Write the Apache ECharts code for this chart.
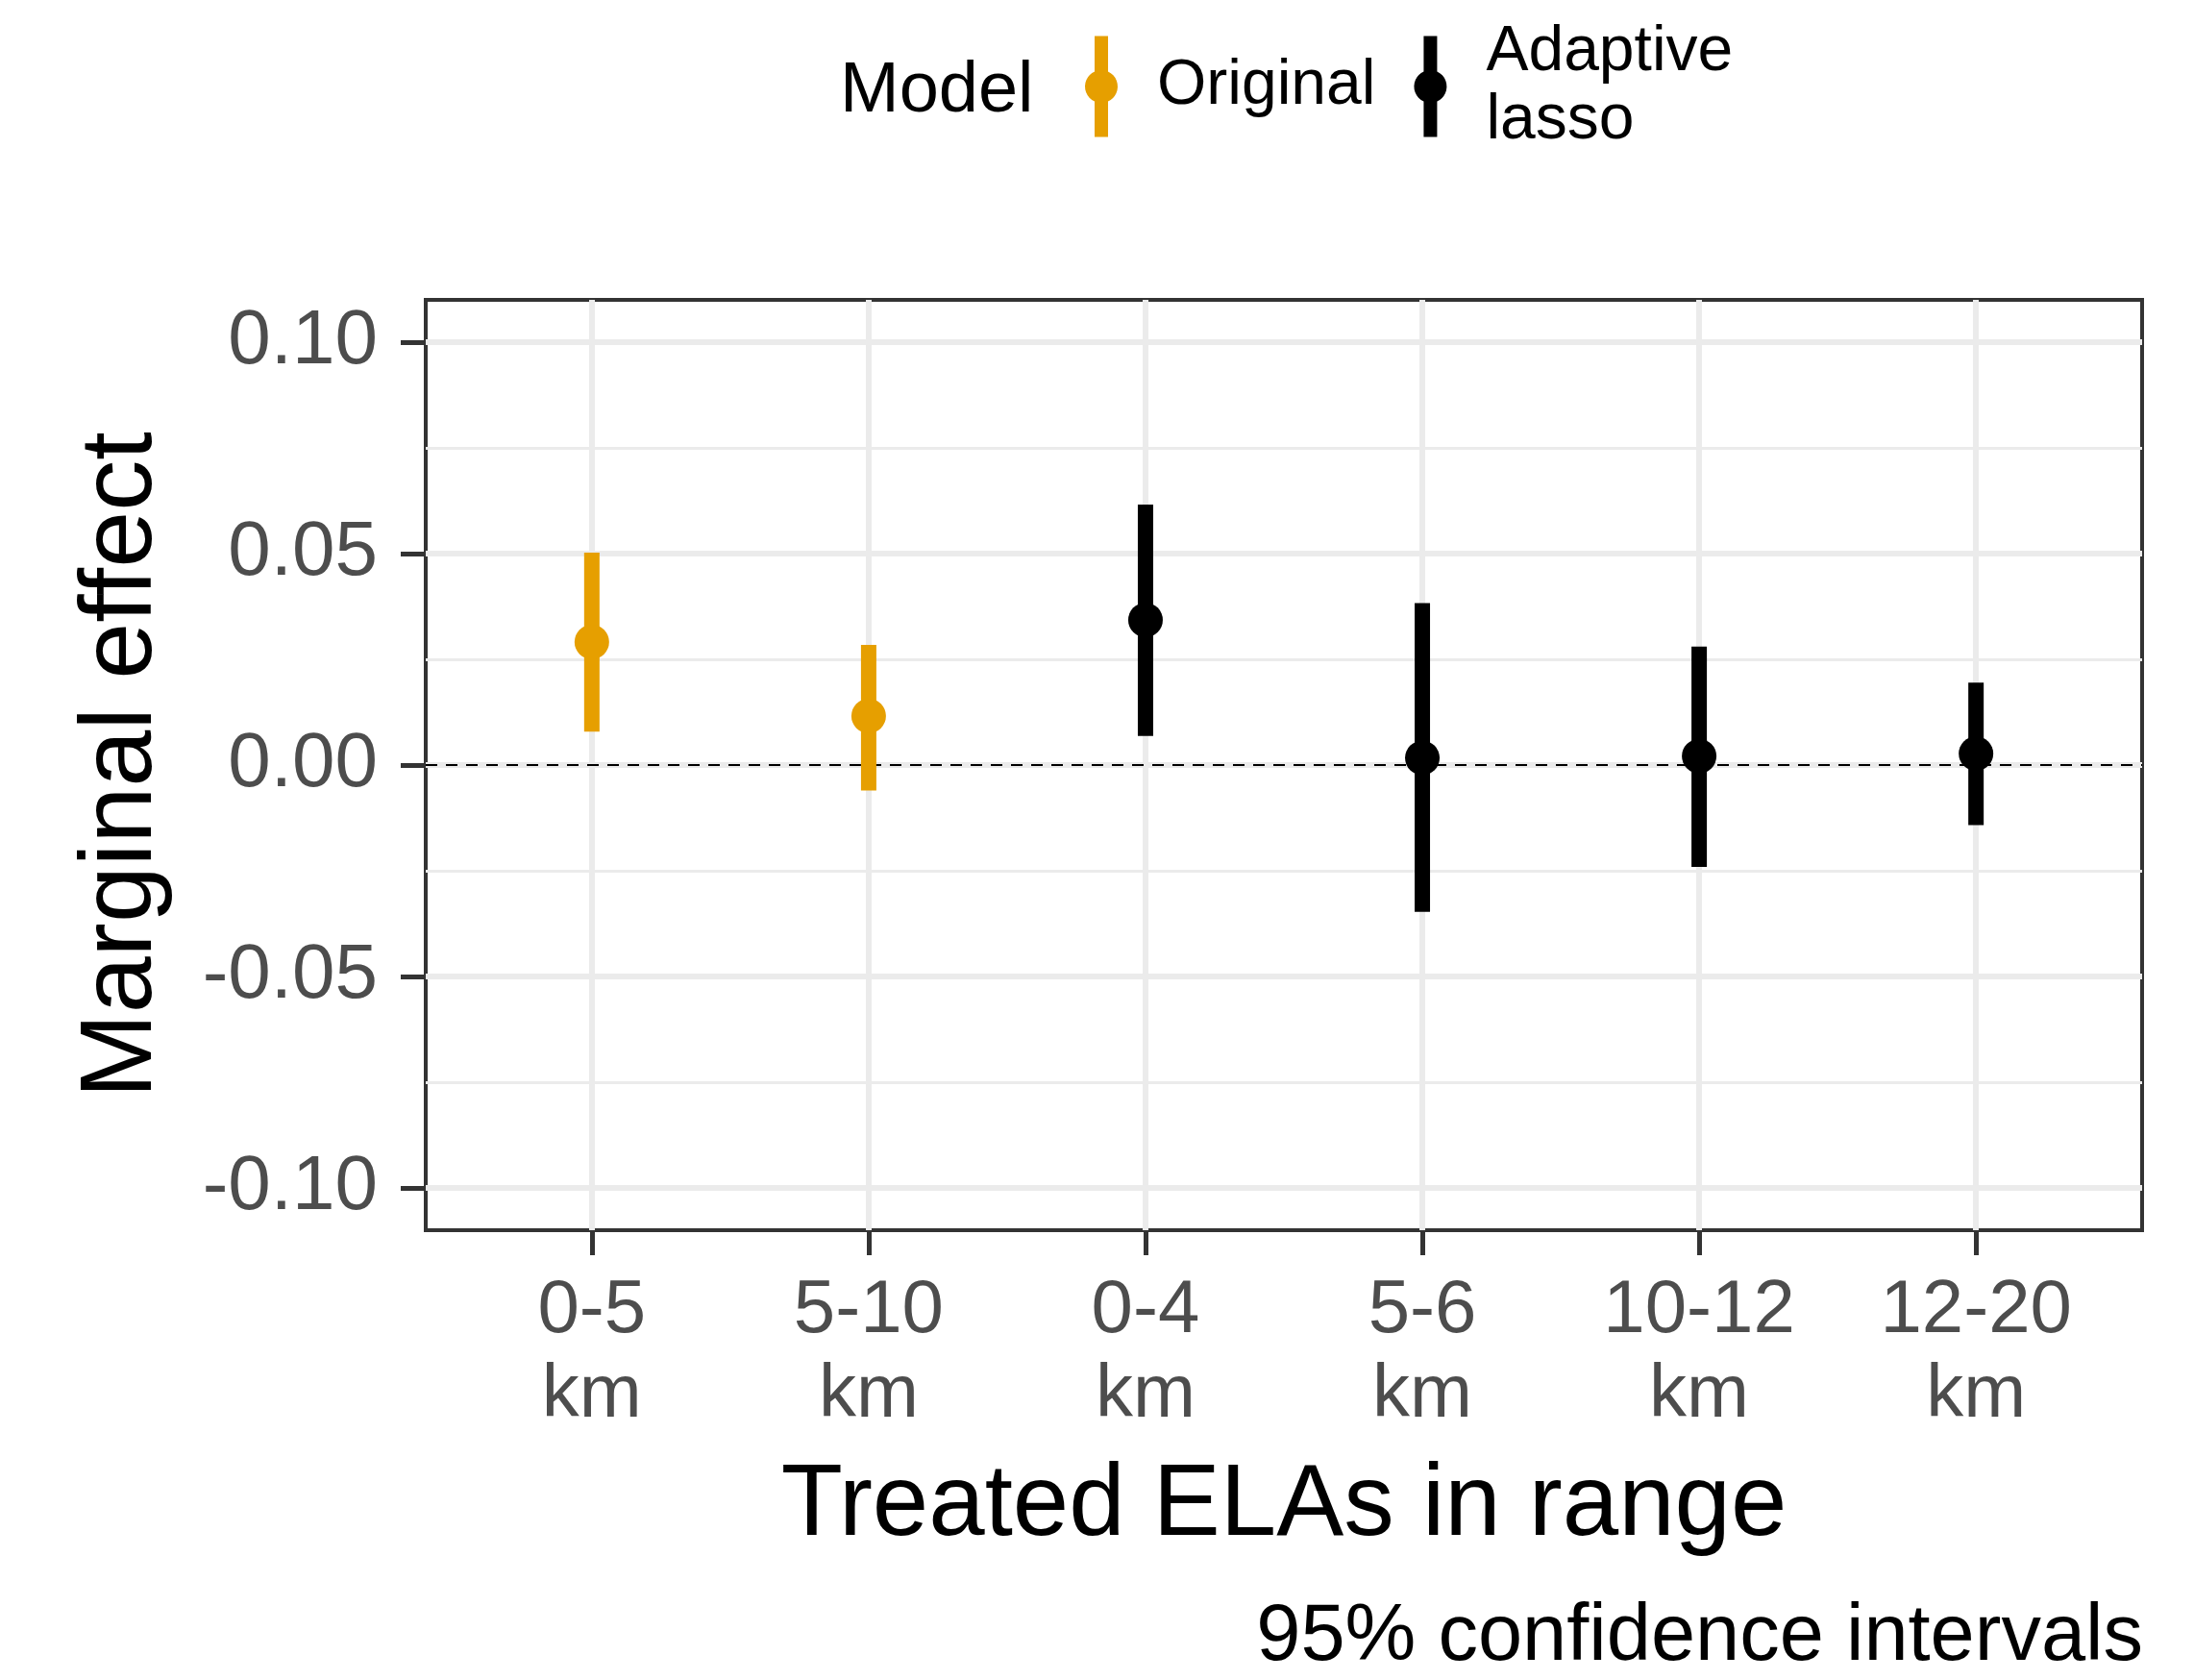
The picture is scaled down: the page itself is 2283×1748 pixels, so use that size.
<!DOCTYPE html>
<html>
<head>
<meta charset="utf-8">
<script src="https://cdn.jsdelivr.net/npm/echarts@6/dist/echarts.min.js"></script>
<style>
  html, body { margin: 0; padding: 0; background: #fff; }
  #chart { width: 2283px; height: 1748px; }
</style>
</head>
<body>
<div id="chart"></div>
<script>
// data
const categories = ['0-5\nkm', '5-10\nkm', '0-4\nkm', '5-6\nkm', '10-12\nkm', '12-20\nkm'];
const models = ['Original', 'Original', 'Adaptive lasso', 'Adaptive lasso', 'Adaptive lasso', 'Adaptive lasso'];
const estimates = [0.0291, 0.0116, 0.0343, 0.0017, 0.0021, 0.0027];
const lowers = [0.0079, -0.0060, 0.0069, -0.0347, -0.0241, -0.0142];
const uppers = [0.0502, 0.0284, 0.0616, 0.0383, 0.0280, 0.0195];
const modelNames = ['Original', 'Adaptive lasso'];
const modelColors = ['#E69F00', '#000000'];
const yTicks = [-0.1, -0.05, 0, 0.05, 0.1];
const yMinorTicks = [-0.075, -0.025, 0.025, 0.075];
const refLine = 0;

const FONT = "'Liberation Sans', Arial, sans-serif";
const xPositions = categories.map((_, i) => i);

// legend key: vertical bar with a dot in the middle
const keyIcon = 'path://M10,0 L24,0 L24,37 A17,17 0 0 1 24,68 L24,105 L10,105 L10,68 A17,17 0 0 1 10,37 Z';

const chart = echarts.init(document.getElementById('chart'), null, { renderer: 'canvas' });

const series = [];
modelNames.forEach((name, m) => {
  const idx = xPositions.filter(i => models[i] === name);
  // error bars
  series.push({
    name,
    type: 'custom',
    xAxisIndex: 0,
    yAxisIndex: 0,
    z: 3,
    itemStyle: { color: modelColors[m] },
    data: idx.map(i => [i, lowers[i], uppers[i]]),
    encode: { x: 0, y: [1, 2] },
    renderItem: (params, api) => {
      const lo = api.coord([api.value(0), api.value(1)]);
      const hi = api.coord([api.value(0), api.value(2)]);
      const w = 16;
      return {
        type: 'rect',
        shape: { x: lo[0] - w / 2, y: hi[1], width: w, height: lo[1] - hi[1] },
        style: { fill: modelColors[m] }
      };
    }
  });
  // point estimates
  series.push({
    name,
    type: 'scatter',
    xAxisIndex: 0,
    yAxisIndex: 0,
    z: 4,
    symbol: 'circle',
    symbolSize: 36,
    itemStyle: { color: modelColors[m], opacity: 1 },
    data: idx.map(i => [i, estimates[i]]),
    markLine: m === 0 ? {
      silent: true,
      symbol: 'none',
      z: 2,
      label: { show: false },
      lineStyle: { color: '#000', width: 2, type: [12, 9] },
      data: [{ yAxis: refLine }]
    } : undefined
  });
});

const option = {
  animation: false,
  backgroundColor: '#ffffff',
  textStyle: { fontFamily: FONT },
  title: [
    {
      text: 'Model',
      left: 869,
      top: 54,
      textStyle: { fontFamily: FONT, fontSize: 74, fontWeight: 'normal', color: '#000' }
    },
    {
      text: '95% confidence intervals',
      right: 48,
      top: 1658,
      textStyle: { fontFamily: FONT, fontSize: 83, fontWeight: 'normal', color: '#000' }
    }
  ],
  legend: {
    left: 1124,
    top: 6,
    orient: 'horizontal',
    itemWidth: 34,
    itemHeight: 105,
    itemGap: 40,
    data: modelNames.map(name => ({ name, icon: keyIcon })),
    formatter: name => name.replace(' ', '\n'),
    textStyle: {
      fontFamily: FONT,
      fontSize: 66,
      lineHeight: 71,
      color: '#000',
      padding: [16, 0, 0, 36]
    }
  },
  grid: {
    left: 443,
    right: 54,
    top: 312,
    bottom: 468,
    show: true,
    borderColor: '#333333',
    borderWidth: 4,
    backgroundColor: 'transparent'
  },
  xAxis: {
    type: 'value',
    min: -0.6,
    max: 5.6,
    name: 'Treated ELAs in range',
    nameLocation: 'middle',
    nameGap: 236,
    nameTextStyle: { fontFamily: FONT, fontSize: 105, color: '#000' },
    axisLine: { show: false, onZero: false },
    axisTick: {
      show: true,
      length: 26,
      customValues: xPositions,
      lineStyle: { color: '#333333', width: 5 }
    },
    axisLabel: {
      customValues: xPositions,
      margin: 40,
      fontFamily: FONT,
      fontSize: 78,
      lineHeight: 88,
      color: '#4D4D4D',
      formatter: v => categories[Math.round(v)]
    },
    splitLine: { show: true, lineStyle: { color: '#EBEBEB', width: 6 } }
  },
  yAxis: [
    {
      type: 'value',
      min: -0.11,
      max: 0.11,
      position: 'left',
      name: 'Marginal effect',
      nameLocation: 'middle',
      nameGap: 262,
      nameTextStyle: { fontFamily: FONT, fontSize: 106, color: '#000' },
      axisLine: { show: false, onZero: false },
      axisTick: {
        show: true,
        length: 26,
        customValues: yTicks,
        lineStyle: { color: '#333333', width: 5 }
      },
      axisLabel: {
        customValues: yTicks,
        margin: 50,
        fontFamily: FONT,
        fontSize: 80,
        color: '#4D4D4D',
        formatter: v => v.toFixed(2)
      },
      splitLine: { show: true, lineStyle: { color: '#EBEBEB', width: 6 } }
    },
    {
      // minor grid lines only
      type: 'value',
      min: -0.11,
      max: 0.11,
      position: 'left',
      axisLine: { show: false, onZero: false },
      axisTick: { show: false, customValues: yMinorTicks },
      axisLabel: { show: false },
      splitLine: { show: true, lineStyle: { color: '#EBEBEB', width: 3 } }
    }
  ],
  series
};

chart.setOption(option);
</script>
</body>
</html>
